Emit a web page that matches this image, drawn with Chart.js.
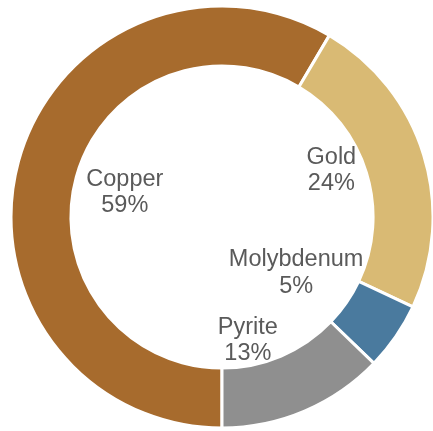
<!DOCTYPE html>
<html>
<head>
<meta charset="utf-8">
<script src="https://cdn.jsdelivr.net/npm/chart.js@4"></script>
<style>
  html, body { margin: 0; padding: 0; background: #fff; }
  #wrap { width: 433px; height: 431px; }
</style>
</head>
<body>
<div id="wrap"><canvas id="chart-mines"></canvas></div>
<script>
const minerals = ["Copper", "Gold", "Molybdenum", "Pyrite"];
const shares = [58.5, 23.5, 5.2, 12.8];
const colors = ["#A76B2D", "#D9BA74", "#4A7A9E", "#8F8F8F"];

// label placement: fraction of inner radius + angle nudge (deg)
const labelRadius = [0.667, 0.793, 0.607, 0.82];
const labelShift = [0, -7, 1.5, 11];

const total = shares.reduce((a, b) => a + b, 0);

const insideLabels = {
  id: "insideLabels",
  afterDatasetsDraw(chart) {
    const ctx = chart.ctx;
    const meta = chart.getDatasetMeta(0);
    ctx.save();
    ctx.font = '23.5px "Liberation Sans", Arial, sans-serif';
    ctx.fillStyle = "#5a5a5a";
    ctx.textAlign = "center";
    ctx.textBaseline = "middle";
    meta.data.forEach((arc, i) => {
      const mid = (arc.startAngle + arc.endAngle) / 2 + labelShift[i] * Math.PI / 180;
      const r = arc.innerRadius * labelRadius[i];
      const x = arc.x + Math.cos(mid) * r;
      const y = arc.y + Math.sin(mid) * r;
      const pct = Math.round(shares[i] * 100 / total + 1e-6);
      ctx.fillText(minerals[i], x, y - 11);
      ctx.fillText(pct + "%", x, y + 15.5);
    });
    ctx.restore();
  }
};

new Chart(document.getElementById("chart-mines"), {
  type: "doughnut",
  data: {
    labels: minerals,
    datasets: [{
      data: shares,
      backgroundColor: colors,
      borderColor: "#ffffff",
      borderWidth: 3
    }]
  },
  options: {
    responsive: true,
    maintainAspectRatio: false,
    animation: false,
    rotation: 180,
    radius: 211,
    cutout: 150,
    layout: { padding: { left: 11, right: 0, top: 6, bottom: 3 } },
    plugins: {
      legend: { display: false },
      tooltip: { enabled: false }
    }
  },
  plugins: [insideLabels]
});
</script>
</body>
</html>
